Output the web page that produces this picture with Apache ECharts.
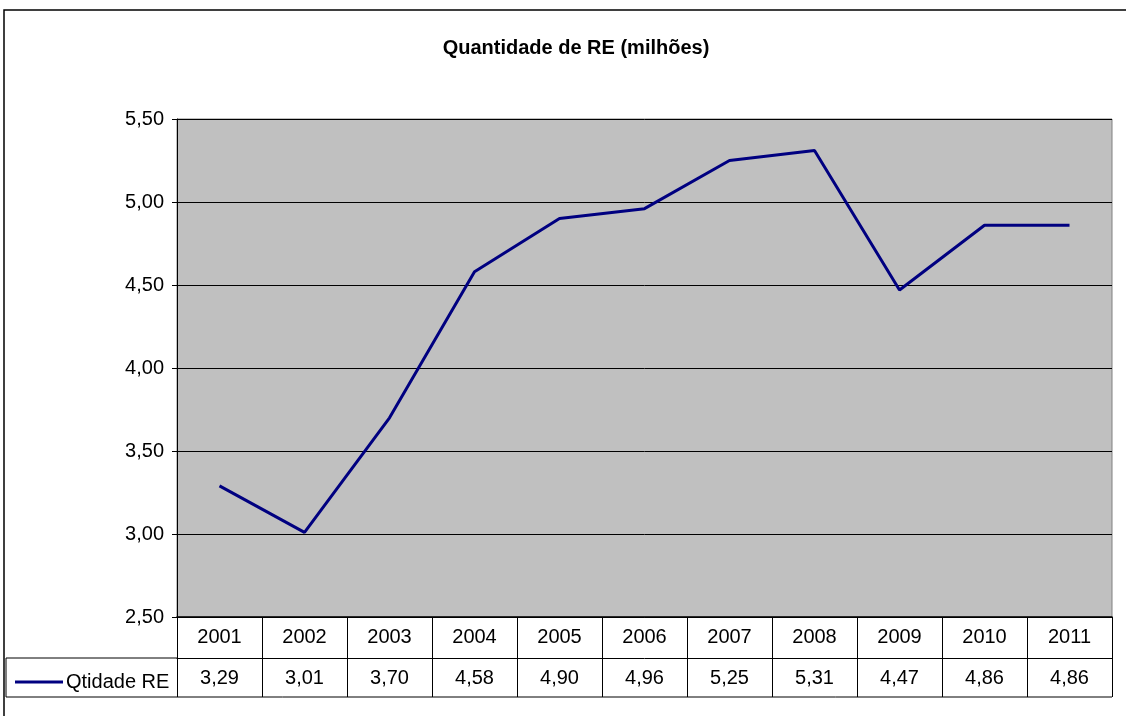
<!DOCTYPE html>
<html>
<head>
<meta charset="utf-8">
<script src="https://cdn.jsdelivr.net/npm/echarts@6/dist/echarts.min.js"></script>
<style>
  html, body { margin: 0; padding: 0; background: #fff; }
  #chart { width: 1126px; height: 716px; }
</style>
</head>
<body>
<div id="chart"></div>
<script>
// data
var years = ['2001', '2002', '2003', '2004', '2005', '2006', '2007', '2008', '2009', '2010', '2011'];
var qtidadeRE = [3.29, 3.01, 3.70, 4.58, 4.90, 4.96, 5.25, 5.31, 4.47, 4.86, 4.86];
var seriesName = 'Qtidade RE';
var yMin = 2.5, yMax = 5.5, yStep = 0.5;

function fmt(v) {
    return v.toFixed(2).replace('.', ',');
}

var chart = echarts.init(document.getElementById('chart'));
var font = 'Liberation Sans, Arial, sans-serif';

chart.setOption({
    animation: false,
    backgroundColor: '#fff',
    textStyle: { fontFamily: font },
    title: {
        text: 'Quantidade de RE (milhões)',
        left: 571,
        top: 33,
        textAlign: 'center',
        textStyle: { fontSize: 20, fontWeight: 'bold', color: '#000', fontFamily: font }
    },
    legend: {
        left: 10,
        top: 667,
        itemWidth: 48,
        itemHeight: 3,
        itemGap: 4,
        icon: 'rect',
        data: [seriesName],
        textStyle: { fontSize: 20, color: '#000', fontFamily: font, padding: [0, 0, 0, -2] }
    },
    grid: {
        left: 177, right: 14, top: 119, bottom: 99,
        show: true,
        backgroundColor: '#c0c0c0',
        borderColor: '#808080',
        borderWidth: 1
    },
    xAxis: [{
        type: 'category',
        data: years,
        boundaryGap: true,
        position: 'bottom',
        axisLine: { lineStyle: { color: '#000', width: 1.5 } },
        axisTick: { show: true, length: 41, interval: 0, lineStyle: { color: '#000' } },
        axisLabel: { interval: 0, margin: 10, fontSize: 20, color: '#000', fontFamily: font },
        splitLine: { show: false }
    }, {
        type: 'category',
        data: qtidadeRE.map(fmt),
        boundaryGap: true,
        position: 'bottom',
        offset: 41,
        axisLine: { lineStyle: { color: '#000', width: 1 } },
        axisTick: { show: true, length: 39, interval: 0, lineStyle: { color: '#000' } },
        axisLabel: { interval: 0, margin: 10, fontSize: 20, color: '#000', fontFamily: font },
        splitLine: { show: false }
    }],
    yAxis: {
        type: 'value',
        min: yMin,
        max: yMax,
        interval: yStep,
        axisLine: { show: true, lineStyle: { color: '#000' } },
        axisTick: { show: true, length: 5, lineStyle: { color: '#000' } },
        axisLabel: { formatter: fmt, margin: 13, fontSize: 20, color: '#000', fontFamily: font },
        splitLine: { lineStyle: { color: '#000', width: 1 } }
    },
    series: [{
        name: seriesName,
        type: 'line',
        xAxisIndex: 0,
        data: qtidadeRE,
        symbol: 'none',
        lineStyle: { color: '#000080', width: 3 },
        itemStyle: { color: '#000080' }
    }],
    graphic: [
        // outer chart frame
        { type: 'rect', shape: { x: 4, y: 10, width: 1140, height: 730 },
          style: { fill: 'none', stroke: '#000', lineWidth: 1.5 }, silent: true },
        // legend cell top border
        { type: 'line', shape: { x1: 6, y1: 658, x2: 177, y2: 658 },
          style: { stroke: '#000', lineWidth: 1 }, silent: true },
        // legend cell left border
        { type: 'line', shape: { x1: 6, y1: 658, x2: 6, y2: 697 },
          style: { stroke: '#000', lineWidth: 1 }, silent: true },
        // table bottom border
        { type: 'line', shape: { x1: 6, y1: 697, x2: 1112, y2: 697 },
          style: { stroke: '#000', lineWidth: 1 }, silent: true }
    ]
});
</script>
</body>
</html>
